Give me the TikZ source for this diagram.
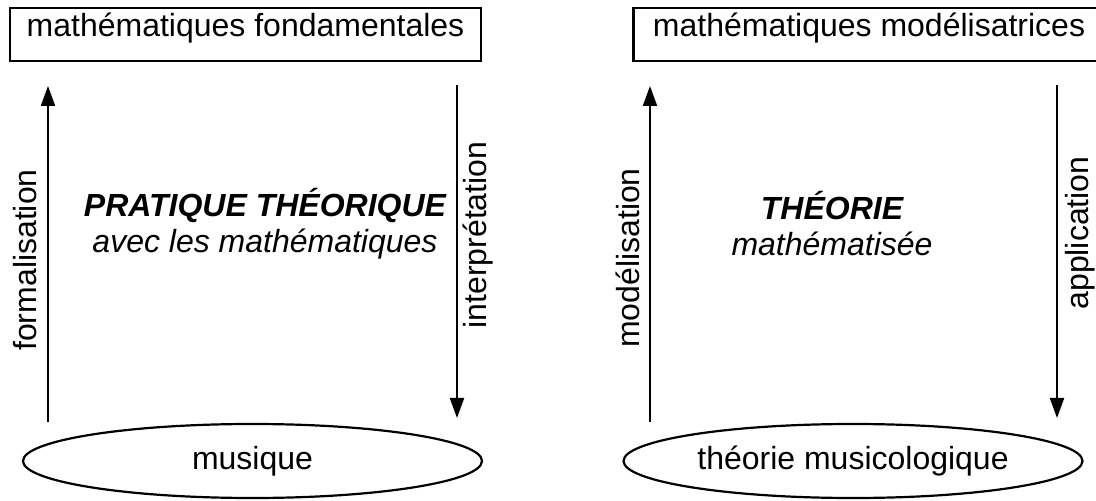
\documentclass[tikz,border=0pt]{standalone}
\usepackage{fontspec}
\setmainfont{Liberation Sans}
\usetikzlibrary{arrows.meta,shapes.geometric}

\begin{document}
\begin{tikzpicture}[x=0.5pt,y=-0.5pt,
	fleche/.style={-{Triangle[length=10pt,width=7pt]}, line width=1pt},
	boite/.style={draw, line width=1.2pt, minimum width=235.5pt, inner sep=0pt, text height=14.5pt, text depth=12pt},
	ovale/.style={draw, ellipse, line width=1.1pt, minimum width=229.5pt, minimum height=37pt, inner sep=0pt},
	every node/.style={font=\fontsize{16}{18}\selectfont}]
	\clip (0,0) rectangle (1096,501);
	% gauche
	\node [boite] (fond) at (245.5,34.5) {mathématiques fondamentales};
	\node [ovale] (mus) at (252.5,461) {musique};
	\coordinate (f1) at (48,422);
	\coordinate (f2) at (48,86);
	\coordinate (i1) at (457,85);
	\coordinate (i2) at (457,418);
	\draw [fleche] (f1) -- (f2);
	\draw [fleche] (i1) -- (i2);
	\node [rotate=90] (form) at (25,260) {formalisation};
	\node [rotate=90] (interp) at (478,235) {interprétation};
	\node [align=center] (prat) at (265,224) {\bfseries\itshape PRATIQUE THÉORIQUE\\ \itshape avec les mathématiques};
	% droite
	\node [boite] (modl) at (869,34.5) {mathématiques modélisatrices};
	\node [ovale] (theo) at (853,461) {théorie musicologique};
	\coordinate (m1) at (650,422);
	\coordinate (m2) at (650,86);
	\coordinate (a1) at (1057,85);
	\coordinate (a2) at (1057,418);
	\draw [fleche] (m1) -- (m2);
	\draw [fleche] (a1) -- (a2);
	\node [rotate=90] (model) at (628,258) {modélisation};
	\node [rotate=90] (appl) at (1080,233) {application};
	\node [align=center] (math) at (832,224) {\bfseries\itshape THÉORIE\\ \itshape mathématisée};
\end{tikzpicture}
\end{document}
